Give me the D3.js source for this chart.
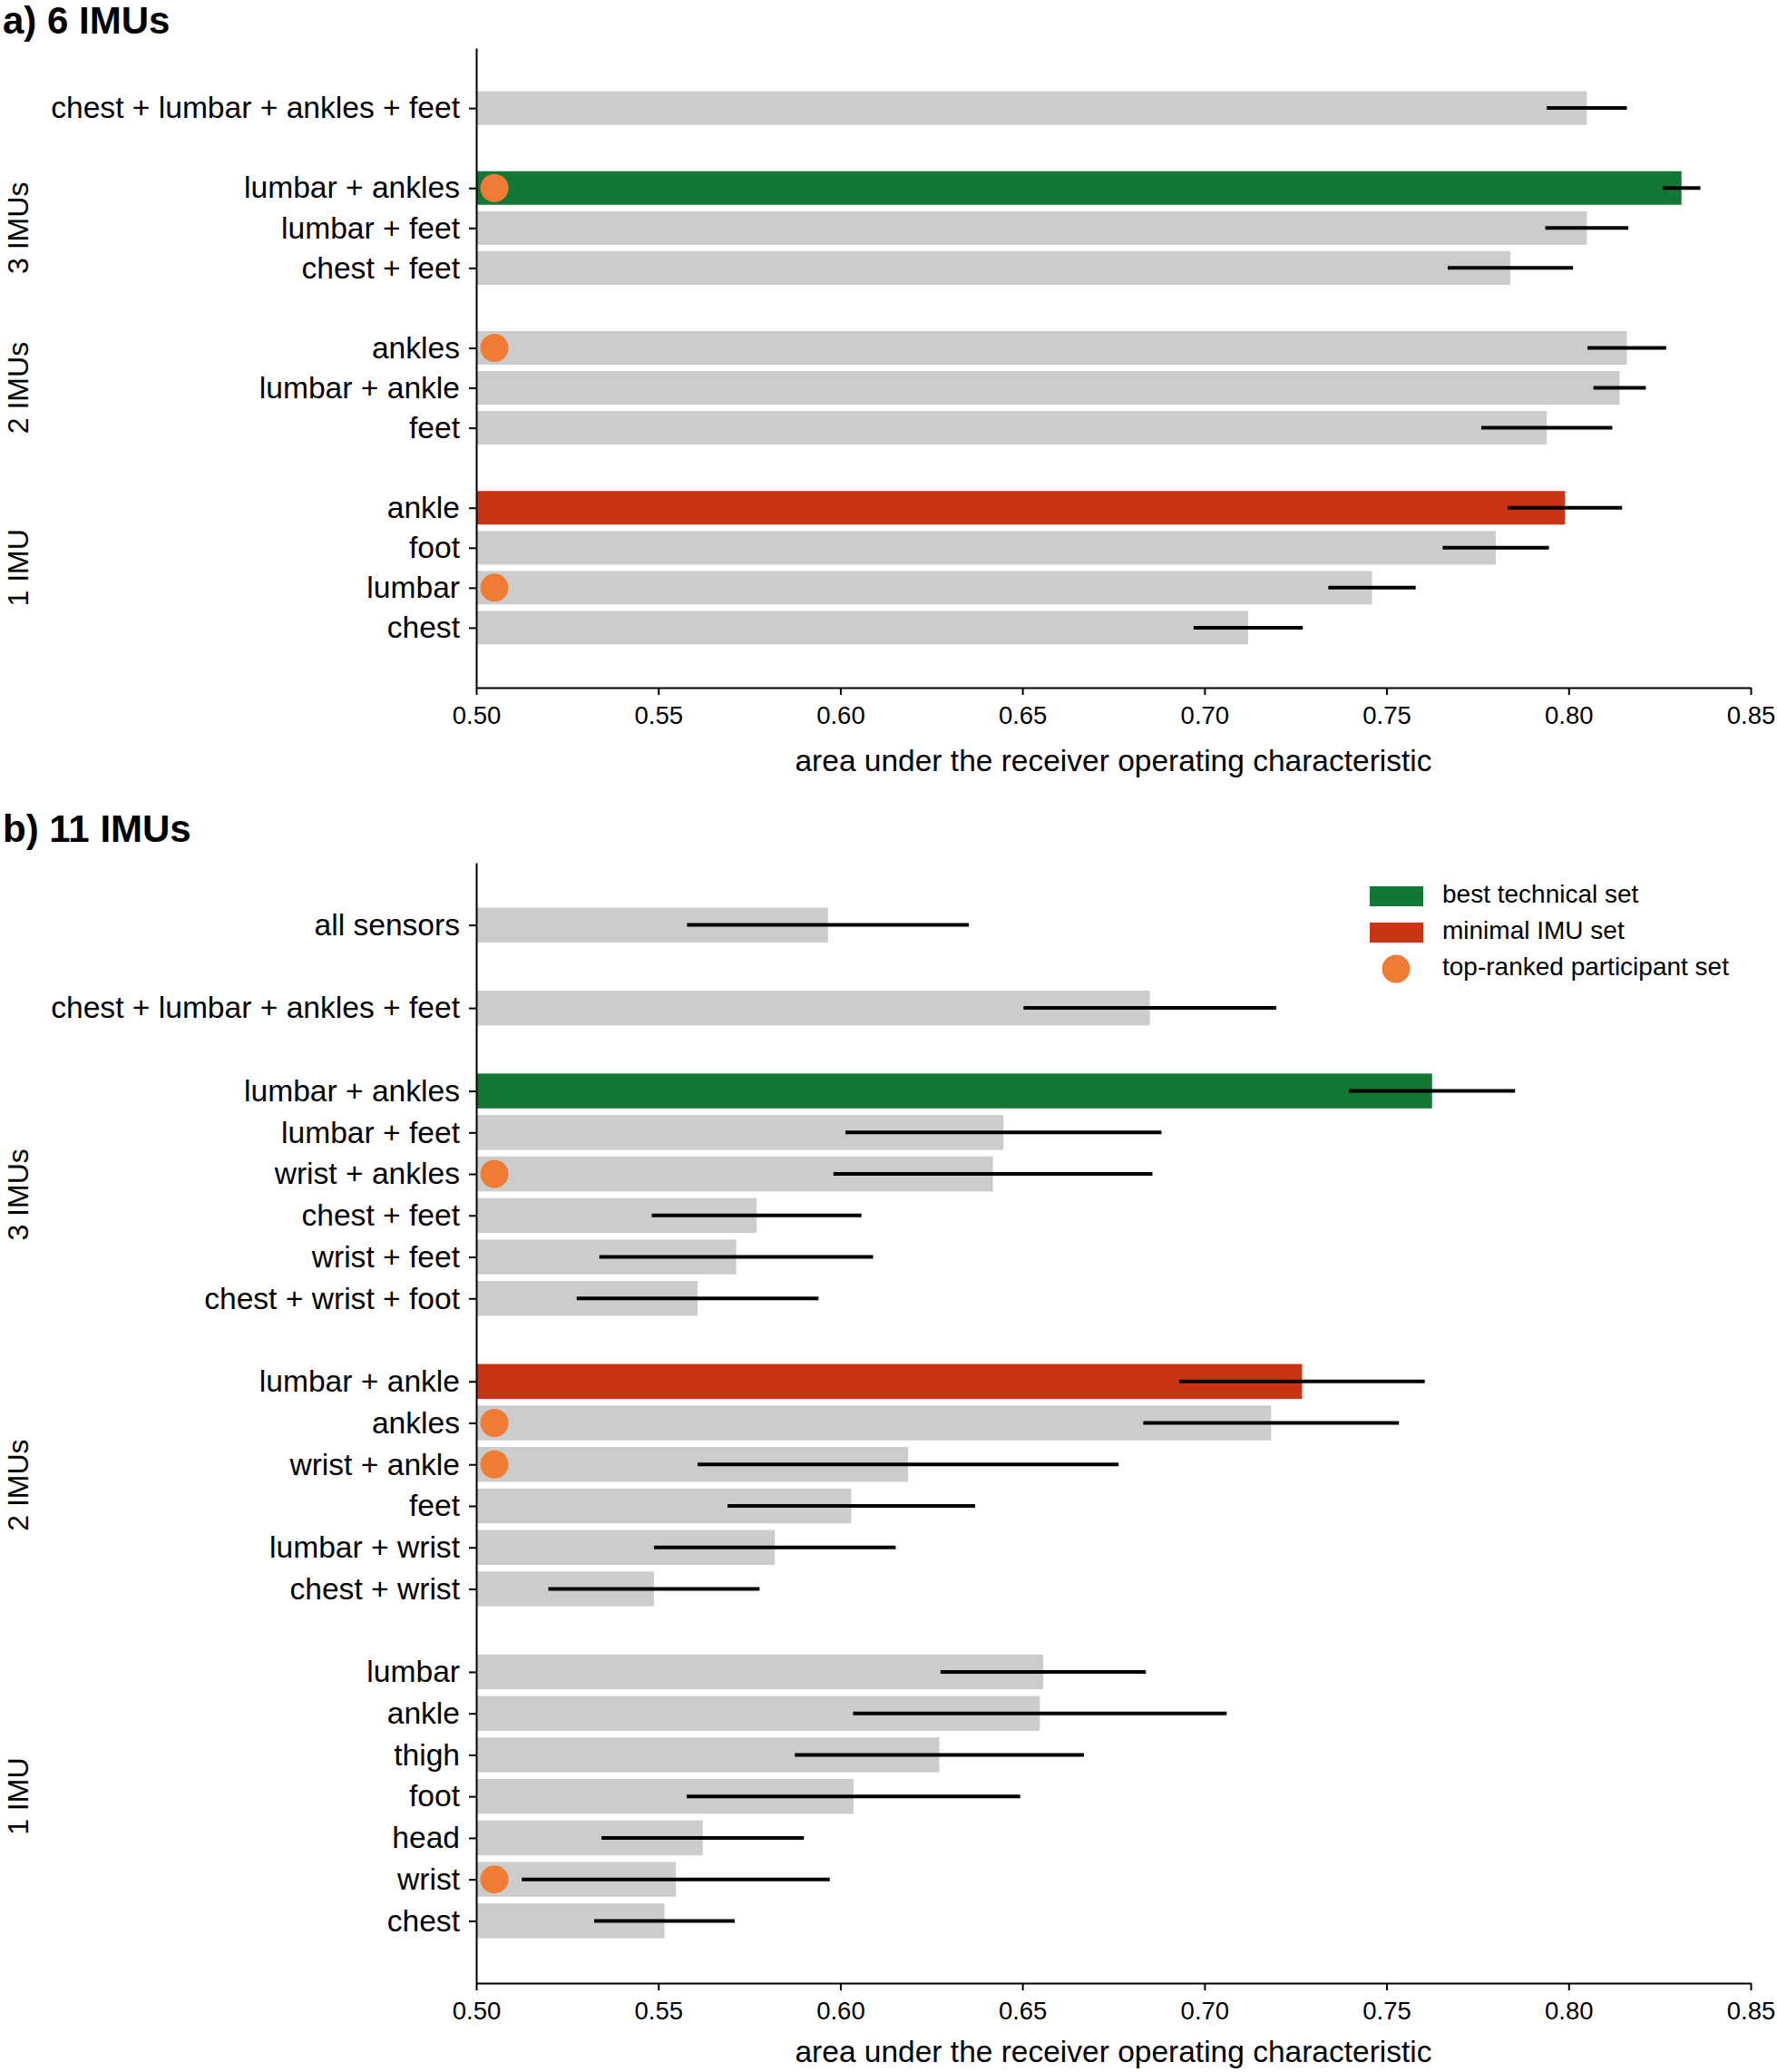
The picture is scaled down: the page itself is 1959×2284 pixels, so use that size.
<!DOCTYPE html>
<html>
<head>
<meta charset="utf-8">
<script src="https://cdn.jsdelivr.net/npm/d3@7"></script>
<style>
  html, body { margin: 0; padding: 0; background: #ffffff; }
  svg { display: block; font-family: "Liberation Sans", Arial, Helvetica, sans-serif; }
</style>
</head>
<body>
<script>
// ---------- DATA ----------
// panel a) 6 IMUs
const topLabels = ["chest + lumbar + ankles + feet", "lumbar + ankles", "lumbar + feet", "chest + feet",
  "ankles", "lumbar + ankle", "feet", "ankle", "foot", "lumbar", "chest"];
const topGroups = ["four", "3 IMUs", "3 IMUs", "3 IMUs", "2 IMUs", "2 IMUs", "2 IMUs",
  "1 IMU", "1 IMU", "1 IMU", "1 IMU"];
const topValues = [0.805, 0.831, 0.805, 0.784, 0.816, 0.814, 0.794, 0.799, 0.780, 0.746, 0.712];
const topErrors = [0.011, 0.0052, 0.0114, 0.0172, 0.0108, 0.0072, 0.018, 0.0157, 0.0146, 0.012, 0.015];
const topBest = ["lumbar + ankles"];
const topMinimal = ["ankle"];
const topParticipant = ["lumbar + ankles", "ankles", "lumbar"];

// panel b) 11 IMUs
const botLabels = ["all sensors", "chest + lumbar + ankles + feet", "lumbar + ankles", "lumbar + feet",
  "wrist + ankles", "chest + feet", "wrist + feet", "chest + wrist + foot",
  "lumbar + ankle", "ankles", "wrist + ankle", "feet", "lumbar + wrist", "chest + wrist",
  "lumbar", "ankle", "thigh", "foot", "head", "wrist", "chest"];
const botGroups = ["all", "four", "3 IMUs", "3 IMUs", "3 IMUs", "3 IMUs", "3 IMUs", "3 IMUs",
  "2 IMUs", "2 IMUs", "2 IMUs", "2 IMUs", "2 IMUs", "2 IMUs",
  "1 IMU", "1 IMU", "1 IMU", "1 IMU", "1 IMU", "1 IMU", "1 IMU"];
const botValues = [0.5966, 0.685, 0.7625, 0.6448, 0.6419, 0.577, 0.5714, 0.5608,
  0.7268, 0.7183, 0.6186, 0.603, 0.582, 0.5488,
  0.6557, 0.6548, 0.6272, 0.6036, 0.5622, 0.5548, 0.5517];
const botErrors = [0.0387, 0.0347, 0.0228, 0.0434, 0.0438, 0.0288, 0.0376, 0.0332,
  0.0337, 0.0351, 0.0578, 0.034, 0.0332, 0.029,
  0.0282, 0.0513, 0.0397, 0.0458, 0.0278, 0.0423, 0.0193];
const botBest = ["lumbar + ankles"];
const botMinimal = ["lumbar + ankle"];
const botParticipant = ["wrist + ankles", "ankles", "wrist + ankle", "wrist"];

const groupNames = ["3 IMUs", "2 IMUs", "1 IMU"];
const xTicks = [0.50, 0.55, 0.60, 0.65, 0.70, 0.75, 0.80, 0.85];
const legendLabels = ["best technical set", "minimal IMU set", "top-ranked participant set"];

// ---------- STYLE ----------
const C_GRAY = "#cccccc", C_GREEN = "#137735", C_RED = "#cb3413", C_ORANGE = "#ef7b35";
const W = 1959, H = 2284;

const svg = d3.select("body").append("svg").attr("width", W).attr("height", H);
svg.append("rect").attr("width", W).attr("height", H).attr("fill", "#fff");

const x = d3.scaleLinear().domain([0.5, 0.85]).range([525, 1930]);

function slotsFor(groups) {
  const s = [];
  let cur = 0;
  groups.forEach((g, i) => {
    if (i > 0) cur += (g !== groups[i - 1]) ? 2 : 1;
    s.push(cur);
  });
  return s;
}

function panel(opt) {
  const slots = slotsFor(opt.groups);
  const maxSlot = slots[slots.length - 1];
  const y = d3.scaleLinear().domain([-1.5, maxSlot + 1.5]).range([opt.top, opt.bottom]);
  const step = y(1) - y(0);
  const bh = step * 0.84;
  const g = svg.append("g");

  const rows = opt.labels.map((l, i) => ({
    label: l, slot: slots[i], v: opt.values[i], e: opt.errors[i], grp: opt.groups[i]
  }));

  g.selectAll("rect.bar").data(rows).enter().append("rect")
    .attr("class", "bar")
    .attr("x", x(0.5))
    .attr("y", d => y(d.slot) - bh / 2)
    .attr("width", d => x(d.v) - x(0.5))
    .attr("height", bh)
    .attr("fill", d => opt.best.includes(d.label) ? C_GREEN : (opt.minimal.includes(d.label) ? C_RED : C_GRAY));

  g.selectAll("line.err").data(rows).enter().append("line")
    .attr("x1", d => x(d.v - d.e)).attr("x2", d => x(d.v + d.e))
    .attr("y1", d => y(d.slot)).attr("y2", d => y(d.slot))
    .attr("stroke", "#000").attr("stroke-width", 4);

  g.selectAll("circle.part").data(rows.filter(d => opt.participant.includes(d.label))).enter()
    .append("circle")
    .attr("cx", x(0.505)).attr("cy", d => y(d.slot)).attr("r", 15.5)
    .attr("fill", C_ORANGE);

  // axes
  const yAxis = d3.axisLeft(y).tickValues(slots)
    .tickFormat((s) => rows.find(r => r.slot === s).label)
    .tickSize(8).tickSizeOuter(0).tickPadding(10);
  const ya = g.append("g").attr("transform", `translate(${x(0.5)},0)`).call(yAxis);
  ya.selectAll("text").attr("font-size", 33.6).attr("fill", "#000").attr("font-family", "Liberation Sans, Arial, sans-serif");
  ya.selectAll("line, path").attr("stroke", "#000").attr("stroke-width", 2);

  const xAxis = d3.axisBottom(x).tickValues(xTicks).tickFormat(d3.format(".2f"))
    .tickSize(8).tickSizeOuter(0).tickPadding(12);
  const xa = g.append("g").attr("transform", `translate(0,${opt.bottom})`).call(xAxis);
  xa.selectAll("text").attr("font-size", 27.5).attr("fill", "#000").attr("font-family", "Liberation Sans, Arial, sans-serif");
  xa.selectAll("line, path").attr("stroke", "#000").attr("stroke-width", 2);

  g.append("text")
    .attr("x", (x.range()[0] + x.range()[1]) / 2).attr("y", opt.bottom + opt.labelOffset)
    .attr("text-anchor", "middle").attr("dominant-baseline", "middle")
    .attr("font-size", 33.5).text("area under the receiver operating characteristic");

  // group labels
  groupNames.forEach(gn => {
    const sl = rows.filter(r => r.grp === gn).map(r => r.slot);
    if (!sl.length) return;
    const cy = y((d3.min(sl) + d3.max(sl)) / 2);
    g.append("text")
      .attr("transform", `translate(31,${cy}) rotate(-90)`)
      .attr("text-anchor", "middle")
      .attr("font-size", 32).text(gn);
  });

  // title
  g.append("text").attr("x", 3).attr("y", opt.titleY)
    .attr("dominant-baseline", "middle")
    .attr("font-size", 42).attr("font-weight", "bold").text(opt.title);

  return { y, g };
}

panel({
  labels: topLabels, groups: topGroups, values: topValues, errors: topErrors,
  best: topBest, minimal: topMinimal, participant: topParticipant,
  top: 53, bottom: 758, title: "a) 6 IMUs", titleY: 26, labelOffset: 83
});

panel({
  labels: botLabels, groups: botGroups, values: botValues, errors: botErrors,
  best: botBest, minimal: botMinimal, participant: botParticipant,
  top: 951, bottom: 2186, title: "b) 11 IMUs", titleY: 917, labelOffset: 78
});

// legend
const lg = svg.append("g");
const legY = [988, 1028, 1068];
lg.append("rect").attr("x", 1510).attr("y", legY[0] - 11).attr("width", 59).attr("height", 22).attr("fill", C_GREEN);
lg.append("rect").attr("x", 1510).attr("y", legY[1] - 11).attr("width", 59).attr("height", 22).attr("fill", C_RED);
lg.append("circle").attr("cx", 1539).attr("cy", legY[2]).attr("r", 15.5).attr("fill", C_ORANGE);
lg.selectAll("text").data(legendLabels).enter().append("text")
  .attr("x", 1590).attr("y", (d, i) => legY[i])
  .attr("dominant-baseline", "middle").attr("font-size", 28).text(d => d);
</script>
</body>
</html>
